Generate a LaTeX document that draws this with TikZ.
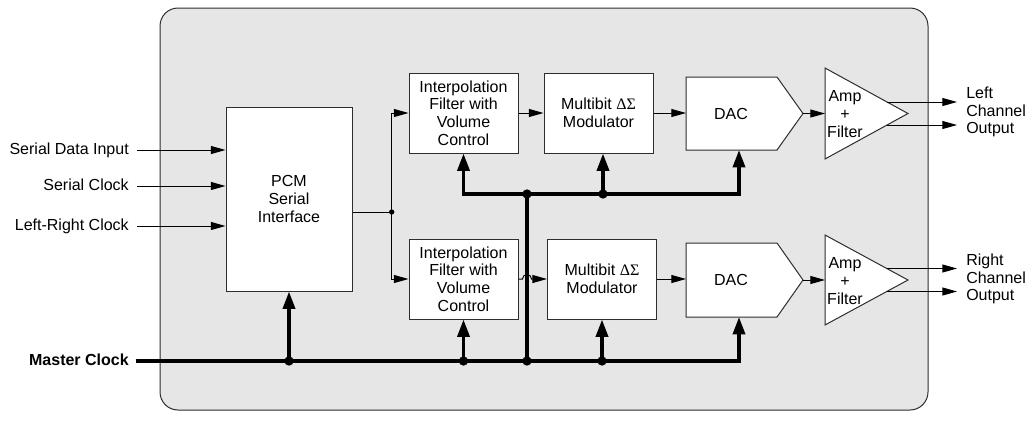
\documentclass[tikz,border=0pt]{standalone}
\usepackage{fontspec}
\setmainfont{Liberation Sans}
\newfontfamily\grk{Liberation Serif}
\usetikzlibrary{arrows.meta}
\definecolor{bgc}{RGB}{230,230,230}
\definecolor{edge}{RGB}{45,45,45}
\begin{document}
\begin{tikzpicture}[x=0.75pt,y=-0.75pt,
  font=\fontsize{12}{13.2}\selectfont,
  blk/.style={draw=edge, fill=white, line width=0.75pt, align=center, inner sep=0pt},
  shp/.style={draw=edge, fill=white, line width=0.75pt},
  wire/.style={line width=0.75pt},
  sig/.style={line width=0.75pt, -{Triangle[length=11pt,width=6pt]}},
  bus/.style={line width=2.6pt},
  busarrow/.style={line width=2.6pt, -{Triangle[length=13pt,width=9pt]}},
  dot/.style={circle, fill=black, inner sep=0pt, minimum size=7pt},
  sdot/.style={circle, fill=black, inner sep=0pt, minimum size=4pt},
  lbl/.style={inner sep=0pt, text height=8.6pt, text depth=2.5pt},
  mlbl/.style={inner sep=0pt, align=left}
]
\useasboundingbox (0,0) rectangle (1026,425);
\draw[draw=edge, fill=bgc, line width=0.75pt, rounded corners=13.5pt] (160,8) rectangle (928,410);

% blocks
\node[blk, minimum width=94.5pt, minimum height=138pt] (pcm) at (289,199) {PCM\\Serial\\Interface};
\node[blk, minimum width=81.75pt, minimum height=60pt] (if1) at (463.5,113) {Interpolation\\Filter with\\Volume\\Control};
\node[blk, minimum width=81.75pt, minimum height=60pt] (if2) at (463.5,279) {Interpolation\\Filter with\\Volume\\Control};
\node[blk, minimum width=81.75pt, minimum height=60pt] (mod1) at (598.5,113) {Multibit {\grk ΔΣ}\\Modulator};
\node[blk, minimum width=81.75pt, minimum height=60pt] (mod2) at (602,279) {Multibit {\grk ΔΣ}\\Modulator};

% DACs
\draw[shp] (686,77) -- (777,77) -- (803,113.5) -- (777,150) -- (686,150) -- cycle;
\node (dac1) at (731,114) {DAC};
\coordinate (dac1in) at (686,113);
\coordinate (dac1tip) at (803,113.5);
\coordinate (dac1b) at (739,150);
\draw[shp] (686,243) -- (777,243) -- (803,280) -- (777,317) -- (686,317) -- cycle;
\node (dac2) at (731,280) {DAC};
\coordinate (dac2in) at (686,279);
\coordinate (dac2tip) at (803,280);
\coordinate (dac2b) at (739,317);

% Amps
\draw[shp] (825,68) -- (908,113.5) -- (825,159) -- cycle;
\node[align=center, inner sep=0pt] (amp1) at (845,114) {Amp\\+\\Filter};
\coordinate (amp1in) at (825,113.5);
\coordinate (a1o1) at (887,102);
\coordinate (a1o2) at (887,125);
\draw[shp] (825,235) -- (908,280) -- (825,325) -- cycle;
\node[align=center, inner sep=0pt] (amp2) at (845,281) {Amp\\+\\Filter};
\coordinate (amp2in) at (825,280);
\coordinate (a2o1) at (887,268.5);
\coordinate (a2o2) at (887,291.5);

% output labels
\node[mlbl, anchor=west] (lco) at (966,112) {Left\\Channel\\Output};
\node[mlbl, anchor=west] (rco) at (966,279) {Right\\Channel\\Output};
\coordinate (e1) at (957,102);
\coordinate (e2) at (957,125);
\coordinate (e3) at (957,268.5);
\coordinate (e4) at (957,291.5);
\draw[sig] (a1o1) -- (e1);
\draw[sig] (a1o2) -- (e2);
\draw[sig] (a2o1) -- (e3);
\draw[sig] (a2o2) -- (e4);

% inputs
\node[lbl, anchor=east] (lsd) at (129,150) {Serial Data Input};
\node[lbl, anchor=east] (lsc) at (129,186) {Serial Clock};
\node[lbl, anchor=east] (llr) at (129,226) {Left-Right Clock};
\node[lbl, anchor=east, font=\fontsize{12}{13.2}\selectfont\bfseries] (lmc) at (129,361) {Master Clock};
\draw[sig] ([xshift=6pt]lsd.east) -- (lsd.east -| pcm.west);
\draw[sig] ([xshift=6pt]lsc.east) -- (lsc.east -| pcm.west);
\draw[sig] ([xshift=6pt]llr.east) -- (llr.east -| pcm.west);

% signal path
\node[sdot] (sp) at (391.7,212) {};
\draw[wire] (sp.center -| pcm.east) -- (sp.center);
\draw[sig] (sp.center) |- (if1.west);
\draw[sig] (sp.center) |- (if2.west);
\draw[sig] (if1.east) -- (mod1.west);
\node[dot] (j3) at (527,361) {};
\draw[sig] (if2.east) -- ([xshift=-3.4pt]j3.center |- if2.east) arc[start angle=180, end angle=0, radius=3.4pt] -- (mod2.west);
\draw[sig] (mod1.east) -- (dac1in);
\draw[sig] (mod2.east |- dac2in) -- (dac2in);
\draw[sig] (dac1tip) -- (amp1in);
\draw[sig] (dac2tip) -- (amp2in);

% clock bus
\node[dot] (j1) at (289,361) {};
\node[dot] (j2) at (463.5,361) {};
\node[dot] (j4) at (602,361) {};
\node[dot] (j5) at (527,194) {};
\node[dot] (j6) at (603,194) {};
\coordinate (mcs) at ([xshift=5pt]lmc.east);
\draw[busarrow] (mcs) -- (dac2b |- j1.center) -- (dac2b);
\draw[busarrow] (j1.center) -- (pcm.south);
\draw[busarrow] (j2.center) -- (if2.south);
\draw[busarrow] (j4.center) -- (mod2.south);
\draw[bus] (j3.center) -- (j5.center);
\draw[busarrow] (j5.center) -- (if1.south |- j5.center) -- (if1.south);
\draw[busarrow] (j5.center) -- (dac1b |- j5.center) -- (dac1b);
\draw[busarrow] (j6.center) -- (j6.center |- mod1.south);
\end{tikzpicture}
\end{document}
